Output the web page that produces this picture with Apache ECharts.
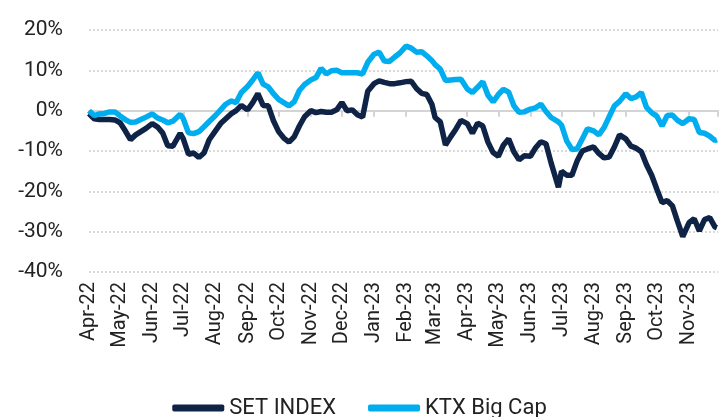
<!DOCTYPE html>
<html>
<head>
<meta charset="utf-8">
<script src="https://cdn.jsdelivr.net/npm/echarts@6/dist/echarts.min.js"></script>
<style>
  html, body { margin: 0; padding: 0; background: #fff; }
  #chart { width: 719px; height: 417px; }
</style>
</head>
<body>
<div id="chart"></div>
<script>
// sample dates (about every 5 days)
var dates = [
  '2022-04-01','2022-04-06','2022-04-11','2022-04-16','2022-04-21','2022-04-26',
  '2022-05-01','2022-05-06','2022-05-11','2022-05-16','2022-05-21','2022-05-26',
  '2022-06-01','2022-06-06','2022-06-11','2022-06-16','2022-06-21','2022-06-28',
  '2022-07-01','2022-07-06','2022-07-11','2022-07-16','2022-07-21','2022-07-26',
  '2022-08-01','2022-08-06','2022-08-11','2022-08-16','2022-08-21','2022-08-26',
  '2022-09-01','2022-09-06','2022-09-11','2022-09-16','2022-09-21','2022-09-26',
  '2022-10-01','2022-10-06','2022-10-11','2022-10-16','2022-10-21','2022-10-26',
  '2022-11-01','2022-11-06','2022-11-11','2022-11-16','2022-11-21','2022-11-26',
  '2022-12-01','2022-12-06','2022-12-11','2022-12-16','2022-12-21','2022-12-26',
  '2023-01-01','2023-01-06','2023-01-11','2023-01-16','2023-01-21','2023-01-26',
  '2023-02-01','2023-02-06','2023-02-11','2023-02-16','2023-02-21','2023-02-26',
  '2023-03-01','2023-03-06','2023-03-11','2023-03-16','2023-03-21','2023-03-26',
  '2023-04-01','2023-04-06','2023-04-11','2023-04-16','2023-04-21','2023-04-26',
  '2023-05-01','2023-05-06','2023-05-11','2023-05-16','2023-05-21','2023-05-26',
  '2023-06-01','2023-06-06','2023-06-11','2023-06-16','2023-06-21','2023-06-28',
  '2023-07-01','2023-07-06','2023-07-11','2023-07-16','2023-07-21','2023-07-26',
  '2023-08-01','2023-08-06','2023-08-11','2023-08-16','2023-08-21','2023-08-26',
  '2023-09-01','2023-09-06','2023-09-11','2023-09-16','2023-09-21','2023-09-26',
  '2023-10-01','2023-10-06','2023-10-11','2023-10-16','2023-10-21','2023-10-26',
  '2023-11-01','2023-11-06','2023-11-11','2023-11-16','2023-11-21','2023-11-26','2023-11-28'
];

// SET INDEX, % change
var setIndex = [
  -0.7, -2.0, -2.2, -2.2, -2.2, -2.3,
  -3.0, -5.0, -7.2, -6.0, -5.2, -4.4,
  -3.2, -4.0, -5.5, -8.7, -8.8, -5.6,
  -7.0, -10.8, -10.5, -11.6, -10.5, -7.2,
  -5.0, -3.2, -2.0, -0.8, 0.0, 1.3,
  0.2, 2.0, 4.2, 1.3, 1.2, -2.5,
  -5.2, -6.8, -7.8, -6.5, -3.8, -1.5,
  0.0, -0.5, -0.2, -0.4, -0.4, 0.2,
  2.0, 0.0, 0.2, -1.0, -1.6, 4.8,
  6.7, 7.4, 7.0, 6.7, 6.7, 6.9,
  7.2, 7.3, 5.5, 4.3, 4.0, 1.5,
  -1.7, -2.8, -8.5, -6.5, -4.6, -2.4,
  -3.2, -5.6, -3.1, -3.8, -7.8, -10.4,
  -11.3, -8.5, -7.0, -10.2, -12.2, -11.2,
  -11.3, -9.2, -7.7, -8.2, -13.0, -19.0,
  -15.0, -16.0, -16.0, -12.5, -10.0, -9.5,
  -9.0, -10.6, -11.7, -11.5, -9.0, -6.0,
  -7.0, -8.8, -9.3, -10.2, -13.4, -16.0,
  -19.5, -22.8, -22.3, -23.6, -27.5, -31.2,
  -27.8, -26.8, -29.8, -27.0, -26.5, -28.8, -29.0
];

// KTX Big Cap, % change
var ktxBigCap = [
  0.0, -1.2, -0.8, -0.7, -0.3, -0.3,
  -1.3, -2.2, -2.9, -2.8, -2.2, -1.6,
  -0.8, -1.8, -2.3, -3.0, -2.6, -0.9,
  -2.0, -5.5, -5.7, -5.2, -4.0, -2.7,
  -1.2, 0.2, 1.6, 2.4, 2.0, 4.5,
  6.0, 7.6, 9.4, 6.6, 5.9, 4.2,
  2.8, 2.0, 1.2, 2.2, 5.0, 6.5,
  7.6, 8.2, 10.5, 9.1, 9.9, 10.0,
  9.4, 9.4, 9.4, 9.4, 9.1, 12.0,
  14.0, 14.5, 12.3, 12.2, 13.3, 14.3,
  16.0, 15.5, 14.5, 14.6, 13.6, 12.4,
  11.4, 10.3, 7.5, 7.6, 7.7, 7.8,
  5.4, 4.5, 5.8, 7.2, 3.8, 2.2,
  4.0, 5.3, 4.6, 1.2, -0.4, -0.3,
  0.4, 0.7, 1.6, -0.2, -1.7, -2.8,
  -3.6, -7.5, -9.6, -9.5, -7.0, -4.5,
  -5.0, -6.0, -4.2, -1.5, 1.2, 2.3,
  4.2, 3.0, 3.4, 4.5, 0.8, -0.5,
  -1.4, -3.8, -1.2, -1.1, -2.4, -3.2,
  -2.0, -2.2, -5.4, -5.6, -6.3, -7.4, -7.2
];

var monthNames = ['Jan','Feb','Mar','Apr','May','Jun','Jul','Aug','Sep','Oct','Nov','Dec'];
var DAY = 24 * 3600 * 1000;

function pairs(vals) {
  return dates.map(function (d, i) { return [d, vals[i]]; });
}

var chart = echarts.init(document.getElementById('chart'));
var fontFam = 'Roboto, "Noto Sans", sans-serif';

var option = {
  animation: false,
  grid: { left: 89, right: 1, top: 30, bottom: 145 },
  legend: {
    top: 392,
    left: 'center',
    icon: 'roundRect',
    itemWidth: 52,
    itemHeight: 7,
    itemGap: 32,
    textStyle: { fontSize: 22, color: '#222', fontFamily: fontFam },
    data: ['SET INDEX', 'KTX Big Cap']
  },
  xAxis: [{
    type: 'time',
    min: '2022-04-01',
    max: '2023-11-29',
    splitNumber: 20,
    minInterval: 28 * DAY,
    maxInterval: 31 * DAY,
    axisLine: { show: false, onZero: false },
    axisTick: { show: false },
    splitLine: { show: false },
    axisLabel: {
      rotate: 90,
      margin: 10,
      fontSize: 20,
      color: '#222',
      fontFamily: fontFam,
      hideOverlap: false,
      formatter: function (v) {
        var d = new Date(v);
        return monthNames[d.getMonth()] + '-' + String(d.getFullYear()).slice(2);
      }
    }
  }, {
    type: 'time',
    min: '2022-04-01',
    max: '2023-11-29',
    splitNumber: 20,
    minInterval: 28 * DAY,
    maxInterval: 31 * DAY,
    position: 'bottom',
    axisLine: { show: true, onZero: true, lineStyle: { color: '#d4d4d4', width: 2 } },
    axisTick: { show: true, length: 6, lineStyle: { color: '#d4d4d4', width: 2 } },
    axisLabel: { show: false },
    splitLine: { show: false }
  }],
  yAxis: {
    type: 'value',
    min: -40,
    max: 20,
    interval: 10,
    axisLine: { show: false },
    axisTick: { show: false },
    axisLabel: {
      margin: 26,
      fontSize: 21,
      color: '#222',
      fontFamily: fontFam,
      formatter: '{value}%'
    },
    splitLine: { lineStyle: { type: 'dotted', color: '#d9d9d9', width: 2 } }
  },
  series: [{
    name: 'SET INDEX',
    type: 'line',
    xAxisIndex: 0,
    showSymbol: false,
    color: '#0f2346',
    lineStyle: { width: 5.5, color: '#0f2346' },
    data: pairs(setIndex)
  }, {
    name: 'KTX Big Cap',
    type: 'line',
    xAxisIndex: 0,
    showSymbol: false,
    color: '#00aeef',
    lineStyle: { width: 5.5, color: '#00aeef' },
    data: pairs(ktxBigCap)
  }]
};

chart.setOption(option);
</script>
</body>
</html>
